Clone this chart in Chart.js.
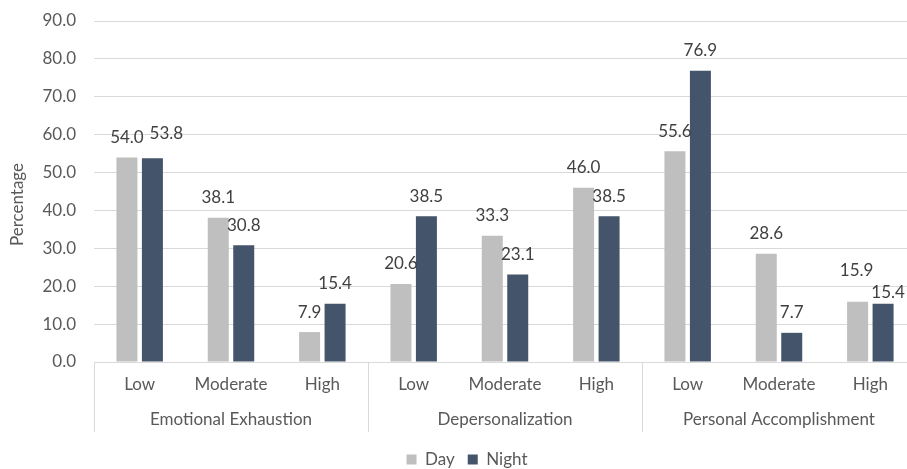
<!DOCTYPE html>
<html>
<head>
<meta charset="utf-8">
<script src="https://cdn.jsdelivr.net/npm/chart.js@4.4.1/dist/chart.umd.min.js"></script>
<style>
  html, body { margin: 0; padding: 0; background: #ffffff; overflow: hidden; }
  #wrap { width: 916px; height: 469px; }
</style>
</head>
<body>
<div id="wrap"><canvas id="chart" width="916" height="469"></canvas></div>
<script>
// Burnout dimensions and their levels
const groups = ['Emotional Exhaustion', 'Depersonalization', 'Personal Accomplishment'];
const levels = ['Low', 'Moderate', 'High'];

// Percentage of respondents per level, day shift vs night shift
const dayValues   = [54.0, 38.1, 7.9, 20.6, 33.3, 46.0, 55.6, 28.6, 15.9];
const nightValues = [53.8, 30.8, 15.4, 38.5, 23.1, 38.5, 76.9, 7.7, 15.4];

// Value axis
const yMin = 0;
const yMax = 90;
const yStep = 10;

const categoryLabels = groups.flatMap(() => levels);

const FONT = 'Lato, "Open Sans", sans-serif';
const SIZE = 17;
const TEXT = '#595959';
const GRID = '#D9D9D9';

// Small offsets so neighbouring value labels don't collide
const labelNudge = [
  { 8: [-1, -11] },            // Day
  { 0: [14, -5], 8: [5, 9] }   // Night
];

const valueLabels = {
  id: 'valueLabels',
  afterDatasetsDraw(chart) {
    const ctx = chart.ctx;
    ctx.save();
    ctx.font = SIZE + 'px ' + FONT;
    ctx.fillStyle = '#404040';
    ctx.textAlign = 'center';
    ctx.textBaseline = 'middle';
    chart.data.datasets.forEach((ds, di) => {
      const meta = chart.getDatasetMeta(di);
      meta.data.forEach((bar, i) => {
        const n = (labelNudge[di] && labelNudge[di][i]) || [0, 0];
        ctx.fillText(ds.data[i].toFixed(1), bar.x + n[0], bar.y - 20 + n[1]);
      });
    });
    ctx.restore();
  }
};

// Second row of category labels with separators between the dimensions
const groupAxis = {
  id: 'groupAxis',
  afterDraw(chart) {
    const ctx = chart.ctx;
    const x = chart.scales.x;
    const top = chart.chartArea.bottom;
    const span = x.width / groups.length;
    ctx.save();
    ctx.strokeStyle = GRID;
    ctx.lineWidth = 1;
    for (let g = 0; g <= groups.length; g++) {
      const px = Math.round(x.left + g * span) + 0.5;
      ctx.beginPath();
      ctx.moveTo(px, top);
      ctx.lineTo(px, top + 70);
      ctx.stroke();
    }
    ctx.font = SIZE + 'px ' + FONT;
    ctx.fillStyle = TEXT;
    ctx.textAlign = 'center';
    ctx.textBaseline = 'middle';
    groups.forEach((name, g) => {
      ctx.fillText(name, x.left + (g + 0.5) * span, top + 58);
    });
    ctx.restore();
  }
};

// Compact legend strip at the bottom, centred a little right of the canvas middle
const legendPlacement = {
  id: 'legendPlacement',
  afterInit(chart) {
    const lg = chart.legend;
    if (lg && !lg._compact) {
      const fit = lg.fit;
      lg.fit = function () { fit.call(this); this.height = 31; };
      lg._compact = true;
    }
  },
  afterLayout(chart) {
    if (chart.legend) chart.legend.right += 18;
  }
};

new Chart(document.getElementById('chart'), {
  type: 'bar',
  data: {
    labels: categoryLabels,
    datasets: [
      { label: 'Day', data: dayValues, backgroundColor: '#BFBFBF' },
      { label: 'Night', data: nightValues, backgroundColor: '#44546A' }
    ]
  },
  options: {
    responsive: false,
    animation: false,
    devicePixelRatio: 1,
    categoryPercentage: 0.558,
    barPercentage: 0.824,
    layout: { padding: { top: 21, left: 0, right: 0, bottom: 0 } },
    plugins: {
      legend: {
        position: 'bottom',
        labels: {
          boxWidth: 10,
          boxHeight: 10,
          padding: 13,
          color: TEXT,
          font: { family: FONT, size: SIZE }
        }
      },
      tooltip: { enabled: false }
    },
    scales: {
      x: {
        grid: { display: false },
        border: { display: false },
        ticks: {
          color: TEXT,
          font: { family: FONT, size: SIZE },
          padding: 4,
          maxRotation: 0,
          autoSkip: false
        },
        afterFit(scale) { scale.height = 76; }
      },
      y: {
        min: yMin,
        max: yMax,
        border: { display: false },
        grid: { color: GRID, lineWidth: 1, drawTicks: false },
        ticks: {
          stepSize: yStep,
          color: TEXT,
          font: { family: FONT, size: SIZE },
          padding: 18,
          callback: v => v.toFixed(1)
        },
        title: {
          display: true,
          text: 'Percentage',
          color: TEXT,
          font: { family: FONT, size: SIZE },
          padding: { top: 7, bottom: 0 }
        },
        afterFit(scale) {
          scale.width = 94;
          // only half a label height is needed above the top tick
          scale.paddingTop = 10;
          scale.paddingBottom = 10;
          // axis title sits slightly below the middle of the value axis
          if (!scale._titleShifted) {
            const drawTitle = scale.drawTitle;
            scale.drawTitle = function () {
              this.ctx.save();
              this.ctx.translate(0, 13);
              drawTitle.call(this);
              this.ctx.restore();
            };
            scale._titleShifted = true;
          }
        }
      }
    }
  },
  plugins: [valueLabels, groupAxis, legendPlacement]
});
</script>
</body>
</html>
